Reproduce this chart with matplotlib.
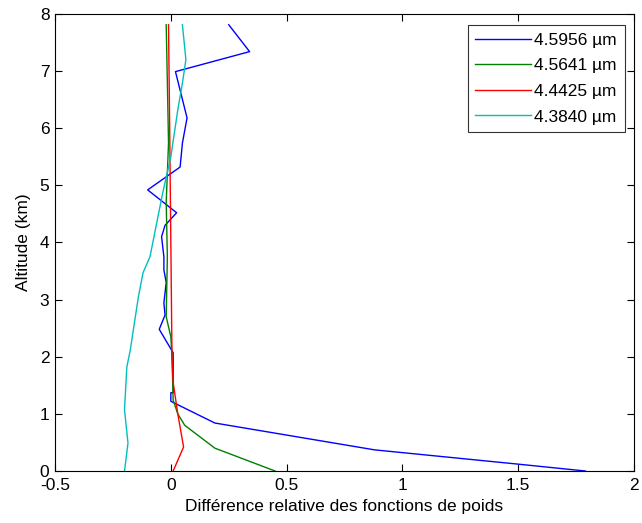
import matplotlib.pyplot as plt

plt.rcParams['font.family'] = ['Liberation Sans', 'DejaVu Sans']

labels = ['4.5956 µm', '4.5641 µm', '4.4425 µm', '4.3840 µm']
colors = ['#0000ff', '#008000', '#ff0000', '#00bfbf']

# relative difference (x) vs altitude (km)
blue_x = [1.79, 1.50, 0.88, 0.19, 0.025, 0.0, 0.0, 0.01, 0.01, -0.05, -0.025,
          -0.03, -0.02, -0.03, -0.03, -0.04, -0.025, 0.025, -0.10, 0.04, 0.05,
          0.07, 0.02, 0.34, 0.25]
blue_y = [0.0, 0.12, 0.37, 0.84, 1.17, 1.22, 1.37, 1.37, 2.07, 2.48, 2.73,
          2.94, 3.30, 3.52, 3.75, 4.10, 4.30, 4.52, 4.92, 5.32, 5.74,
          6.18, 6.99, 7.34, 7.81]

green_x = [0.45, 0.19, 0.06, 0.03, 0.01, 0.005, 0.0, -0.02, -0.015, -0.02,
           -0.01, -0.015, -0.02]
green_y = [0.0, 0.40, 0.80, 1.00, 1.24, 2.00, 2.35, 2.70, 3.75, 4.70,
           5.74, 6.80, 7.81]

red_x = [0.01, 0.055, 0.03, 0.01, 0.005, 0.0, -0.005, -0.01]
red_y = [0.0, 0.42, 1.00, 1.55, 2.00, 4.00, 6.00, 7.81]

cyan_x = [-0.20, -0.185, -0.20, -0.19, -0.175, -0.16, -0.14, -0.12, -0.09,
          -0.035, 0.0, 0.03, 0.05, 0.065, 0.05]
cyan_y = [0.0, 0.49, 1.07, 1.82, 2.12, 2.52, 3.05, 3.47, 3.75,
          4.87, 5.50, 6.32, 6.79, 7.20, 7.81]

fs = 12.5

fig = plt.figure(figsize=(6.42, 5.23), dpi=100)
ax = fig.add_axes([0.0857, 0.0994, 0.902, 0.874])

series = [(blue_x, blue_y), (green_x, green_y), (red_x, red_y), (cyan_x, cyan_y)]
for (xs, ys), lab, c in zip(series, labels, colors):
    ax.plot(xs, ys, color=c, lw=1.0, label=lab)

ax.set_xlim(-0.5, 2)
ax.set_ylim(0, 8)
ax.set_xticks([-0.5, 0, 0.5, 1, 1.5, 2])
ax.set_xticklabels(['-0.5', '0', '0.5', '1', '1.5', '2'])
ax.set_yticks(range(9))
ax.tick_params(direction='in', top=True, right=True, length=5, width=0.8,
               labelsize=fs)
ax.tick_params(axis='x', pad=5)
ax.tick_params(axis='y', pad=4)
for sp in ax.spines.values():
    sp.set_linewidth(0.8)

ax.set_xlabel('Différence relative des fonctions de poids', fontsize=fs,
              labelpad=4)
ax.set_ylabel('Altitude (km)', fontsize=fs, labelpad=6)

leg = ax.legend(loc='upper right', bbox_to_anchor=(0.984, 0.976),
                fontsize=fs, frameon=True, fancybox=False,
                edgecolor='black', handlelength=3.2, handletextpad=0.2,
                borderpad=0.45, labelspacing=0.6, borderaxespad=0)
leg.get_frame().set_linewidth(0.8)

fig.savefig('out.png', dpi=100)
